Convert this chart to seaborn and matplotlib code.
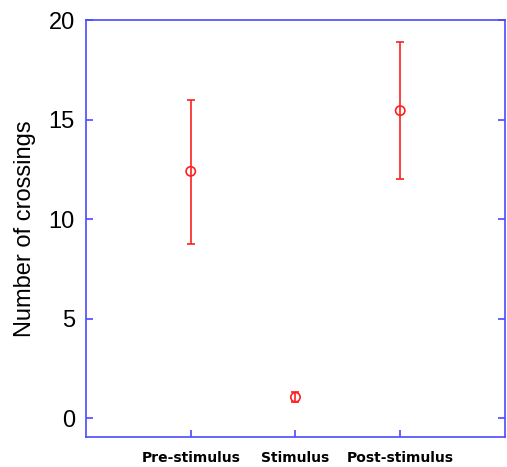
import matplotlib
matplotlib.use("Agg")
import matplotlib.pyplot as plt
import seaborn as sns
import pandas as pd

# values
phases = ["Pre-stimulus", "Stimulus", "Post-stimulus"]
means = [12.4, 1.05, 15.45]
err_low = [8.75, 0.8, 12.0]
err_high = [16.0, 1.3, 18.9]

df = pd.DataFrame({"phase": phases, "pos": [1, 2, 3], "mean": means,
                   "low": err_low, "high": err_high})

sns.set_theme(style="white")
plt.rcParams['font.family'] = ['Liberation Sans', 'DejaVu Sans']
plt.rcParams['text.color'] = 'black'
plt.rcParams['axes.labelcolor'] = 'black'
plt.rcParams['xtick.labelcolor'] = 'black'
plt.rcParams['ytick.labelcolor'] = 'black'

blue = '#4a4aff'
red = '#ff1f1f'

fig = plt.figure(figsize=(5.07, 4.67), dpi=100)
ax = fig.add_axes([0.1696, 0.0642, 0.996 - 0.1696, 0.957 - 0.0642])

ax.errorbar(df["pos"], df["mean"],
            yerr=[df["mean"] - df["low"], df["high"] - df["mean"]],
            fmt='none', ecolor=red, elinewidth=1.2, capsize=3, capthick=1.2)
sns.scatterplot(data=df, x="pos", y="mean", ax=ax, marker='o', s=45,
                facecolor='none', edgecolor=red, linewidth=1.2, zorder=3)

ax.set_xlim(0, 4)
ax.set_ylim(-0.95, 20)
ax.set_xticks(df["pos"])
ax.set_xticklabels(phases, fontfamily='DejaVu Sans', fontweight='bold',
                   fontsize=10, color='black')
ax.set_yticks([0, 5, 10, 15, 20])
ax.set_xlabel("")
ax.set_ylabel("Number of crossings", fontsize=17, labelpad=9, color='black')

for s in ax.spines.values():
    s.set_color(blue)
    s.set_linewidth(1.2)
    s.set_visible(True)

ax.tick_params(axis='x', direction='in', length=5, width=1.2, color=blue,
               pad=10, bottom=True, top=False)
ax.tick_params(axis='y', direction='in', length=5, width=1.2, color=blue,
               labelsize=17, pad=8, left=True, right=True)
ax.grid(False)

fig.savefig("out.png", dpi=100)
